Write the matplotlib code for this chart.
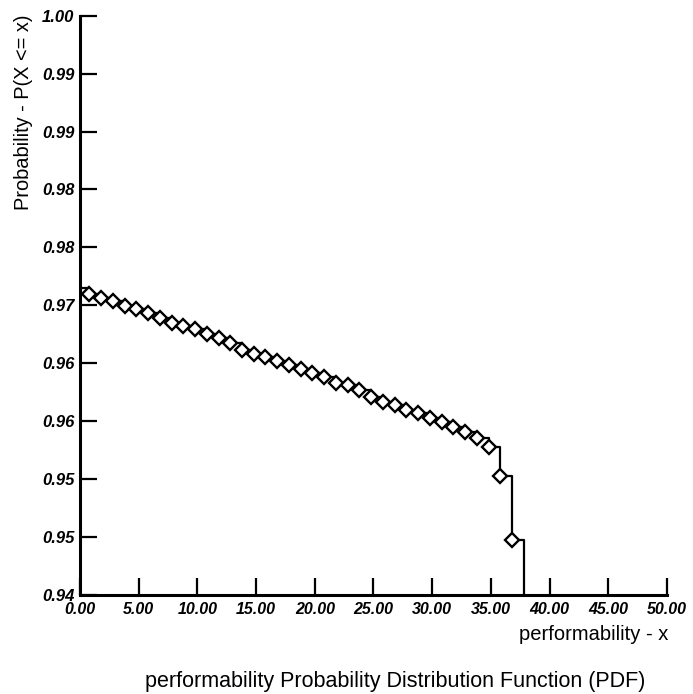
import matplotlib
matplotlib.use("Agg")
import matplotlib.pyplot as plt

# step levels (x = performability, y = P(X <= x))
perf_x = [0.0, 0.8, 1.8, 2.8, 3.8, 4.8, 5.8, 6.8, 7.8, 8.8, 9.8,
          10.8, 11.8, 12.8, 13.8, 14.8, 15.8, 16.8, 17.8, 18.8, 19.8,
          20.8, 21.8, 22.8, 23.8, 24.8, 25.8, 26.8, 27.8, 28.8, 29.8,
          30.8, 31.8, 32.8, 33.8, 34.8, 35.8, 36.8, 37.8]
prob_y = [0.9718, 0.9712, 0.9708, 0.9704, 0.9699, 0.9696, 0.9692, 0.9687,
          0.9682, 0.9679, 0.9675, 0.9670, 0.9666, 0.9661, 0.9654, 0.9650,
          0.9646, 0.9642, 0.9638, 0.9634, 0.9630, 0.9626, 0.9620, 0.9617,
          0.9612, 0.9605, 0.9600, 0.9597, 0.9592, 0.9588, 0.9583, 0.9579,
          0.9574, 0.9569, 0.9563, 0.9553, 0.9523, 0.9457, 0.9400]

x_ticks = [0, 5, 10, 15, 20, 25, 30, 35, 40, 45, 50]
y_ticks = [0.940, 0.946, 0.952, 0.958, 0.964, 0.970,
           0.976, 0.982, 0.988, 0.994, 1.000]

FONT = "Liberation Sans"

fig = plt.figure(figsize=(6.93, 6.94), dpi=100)
ax = fig.add_axes([0.1154, 0.1427, 0.8471, 0.8347])

ax.step(perf_x, prob_y, where="post", color="black", lw=1.6,
        marker="D", markersize=7.5, markerfacecolor="white",
        markeredgecolor="black", markeredgewidth=1.7,
        markevery=list(range(1, len(perf_x) - 1)))

ax.set_xlim(0, 50)
ax.set_ylim(0.94, 1.00)
ax.set_xticks(x_ticks)
ax.set_xticklabels(["%.2f" % v for v in x_ticks])
ax.set_yticks(y_ticks)
ax.set_yticklabels(["%.2f" % v for v in y_ticks])

for lab in ax.get_xticklabels():
    lab.set_family(FONT)
    lab.set_weight("bold")
    lab.set_style("italic")
    lab.set_fontsize(11.5)
for lab in ax.get_yticklabels():
    lab.set_family(FONT)
    lab.set_weight("bold")
    lab.set_style("italic")
    lab.set_fontsize(12)

ax.tick_params(direction="in", length=12, width=1.6, pad=4)
ax.tick_params(axis="x", pad=5)
ax.spines["top"].set_visible(False)
ax.spines["right"].set_visible(False)
ax.spines["left"].set_linewidth(2.2)
ax.spines["bottom"].set_linewidth(2.2)

fig.text(24 / 693, 1 - 14 / 694, "Probability - P(X <= x)", rotation=90,
         ha="center", va="top", family=FONT, fontsize=14.4)
fig.text(668 / 693, 1 - 635 / 694, "performability - x", ha="right",
         va="center", family=FONT, fontsize=14.5)
fig.text(395 / 693, 1 - 681 / 694,
         "performability Probability Distribution Function (PDF)",
         ha="center", va="center", family=FONT, fontsize=15.5)

fig.savefig("out.png", dpi=100)
plt.close()
